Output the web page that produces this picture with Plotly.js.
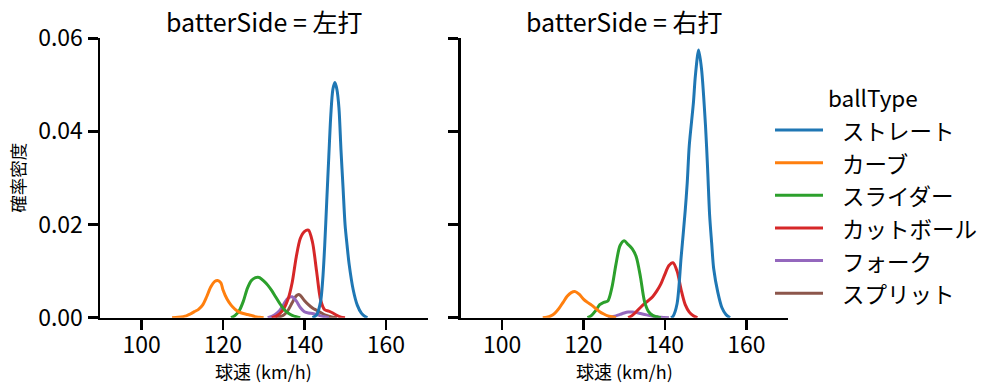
<!DOCTYPE html>
<html>
<head>
<meta charset="utf-8">
<script src="https://cdn.plot.ly/plotly-3.0.1.min.js"></script>
<style>html,body{margin:0;padding:0;background:#fff;}#chart{width:997px;height:391px;}</style>
</head>
<body>
<div id="chart"></div>
<script>
// ---- data ----
const ballTypes = ["ストレート", "カーブ", "スライダー", "カットボール", "フォーク", "スプリット"];
const colors = ["#1f77b4", "#ff7f0e", "#2ca02c", "#d62728", "#9467bd", "#8c564b"];
const sides = ["左打", "右打"];
const xTicks = [100, 120, 140, 160];
const yTicks = [0, 0.02, 0.04, 0.06];

// left-handed batters (左打)
const L_straight_x = [142, 143, 144, 144.5, 145, 145.5, 146, 146.5, 147, 147.5, 148, 148.5, 149, 149.5, 150, 150.5, 151, 152, 153, 154, 155, 155.5];
const L_straight_y = [0, 0.0006, 0.0035, 0.0080, 0.0155, 0.0250, 0.0345, 0.0435, 0.0490, 0.0505, 0.0490, 0.0450, 0.0360, 0.0280, 0.0200, 0.0155, 0.0115, 0.0060, 0.0027, 0.0010, 0.0002, 0];
const L_curve_x = [107.5, 109, 111, 112, 113, 114, 115, 116, 117, 118, 118.7, 119.5, 120, 121, 122, 123, 124, 125, 126, 127, 128, 129, 130];
const L_curve_y = [0, 0.0001, 0.0004, 0.0008, 0.0013, 0.0018, 0.0027, 0.0045, 0.0066, 0.0078, 0.0080, 0.0075, 0.0060, 0.0040, 0.0027, 0.0018, 0.0012, 0.0009, 0.0007, 0.0005, 0.0002, 0.0001, 0];
const L_slider_x = [122, 123, 124, 125, 126, 127, 128, 128.6, 129, 130, 131, 132, 133, 134, 135, 136, 137, 138, 139];
const L_slider_y = [0, 0.0005, 0.0015, 0.0035, 0.0063, 0.0080, 0.0086, 0.0087, 0.0086, 0.0079, 0.0070, 0.0058, 0.0044, 0.0030, 0.0018, 0.0010, 0.0005, 0.0002, 0];
const L_cutter_x = [132, 133, 134, 135, 136, 137, 138, 139, 140, 141, 142, 143, 144, 145, 146, 147, 148, 149, 150];
const L_cutter_y = [0, 0.0003, 0.0009, 0.0020, 0.0040, 0.0075, 0.0130, 0.0170, 0.0185, 0.0188, 0.0162, 0.0100, 0.0038, 0.0017, 0.0014, 0.0010, 0.0005, 0.0001, 0];
const L_fork_x = [131, 132, 133, 134, 135, 136, 137, 138, 139, 140, 141, 142, 143, 144, 145, 146];
const L_fork_y = [0, 0.0003, 0.0008, 0.0016, 0.0030, 0.0042, 0.0045, 0.0036, 0.0022, 0.0013, 0.0010, 0.0009, 0.0007, 0.0004, 0.0002, 0];
const L_split_x = [133, 134, 135, 136, 137, 138, 138.6, 139, 140, 141, 142, 143, 144, 145, 146, 147, 148];
const L_split_y = [0, 0.0002, 0.0006, 0.0016, 0.0032, 0.0047, 0.0050, 0.0048, 0.0037, 0.0028, 0.0021, 0.0016, 0.0011, 0.0006, 0.0003, 0.0001, 0];

// right-handed batters (右打)
const R_straight_x = [141.5, 142, 143, 144, 145, 145.5, 146, 147, 147.5, 148.3, 149, 150, 150.5, 151, 151.5, 152, 153, 154, 155, 156];
const R_straight_y = [0, 0.0003, 0.0030, 0.0130, 0.0230, 0.0290, 0.0370, 0.0460, 0.0520, 0.0575, 0.0535, 0.0410, 0.0320, 0.0220, 0.0160, 0.0105, 0.0055, 0.0022, 0.0007, 0];
const R_curve_x = [110, 111, 112, 113, 114, 115, 116, 117, 118, 119, 120, 121, 122, 123, 124, 125, 126, 127, 128];
const R_curve_y = [0, 0.0001, 0.0004, 0.0010, 0.0020, 0.0033, 0.0046, 0.0054, 0.0056, 0.0050, 0.0040, 0.0033, 0.0027, 0.0020, 0.0013, 0.0008, 0.0004, 0.0002, 0];
const R_slider_x = [121, 122, 123, 124, 125, 126, 127, 128, 129, 130, 131, 132, 133, 134, 135, 136, 137, 138, 139];
const R_slider_y = [0, 0.0005, 0.0015, 0.0028, 0.0033, 0.0036, 0.0065, 0.0115, 0.0155, 0.0165, 0.0157, 0.0148, 0.0130, 0.0088, 0.0035, 0.0013, 0.0005, 0.0002, 0];
const R_cutter_x = [131, 132, 133, 134, 135, 136, 137, 138, 139, 140, 141, 142, 143, 144, 145, 146, 147, 148];
const R_cutter_y = [0, 0.0005, 0.0013, 0.0022, 0.0030, 0.0037, 0.0045, 0.0057, 0.0072, 0.0093, 0.0112, 0.0118, 0.0100, 0.0060, 0.0028, 0.0012, 0.0004, 0];
const R_fork_x = [126, 127, 128, 129, 130, 131, 132, 133, 134, 135, 136, 137, 138, 139, 141];
const R_fork_y = [0, 0.0002, 0.0004, 0.0007, 0.0010, 0.0012, 0.0012, 0.0011, 0.0009, 0.0007, 0.0005, 0.0003, 0.0002, 0.0001, 0];

const seriesL = [[L_straight_x, L_straight_y], [L_curve_x, L_curve_y], [L_slider_x, L_slider_y], [L_cutter_x, L_cutter_y], [L_fork_x, L_fork_y], [L_split_x, L_split_y]];
const seriesR = [[R_straight_x, R_straight_y], [R_curve_x, R_curve_y], [R_slider_x, R_slider_y], [R_cutter_x, R_cutter_y], [R_fork_x, R_fork_y], null];

// ---- build ----
const FONT = '"Noto Sans CJK JP", "Noto Sans", sans-serif';
const traces = [];
[seriesL, seriesR].forEach((series, si) => {
  for (let i = series.length - 1; i >= 0; i--) {
    if (!series[i]) continue;
    traces.push({
      type: 'scatter', mode: 'lines',
      x: series[i][0], y: series[i][1],
      xaxis: si === 0 ? 'x' : 'x2', yaxis: si === 0 ? 'y' : 'y2',
      line: {color: colors[i], width: 3, shape: 'spline', smoothing: 0.8},
      name: ballTypes[i], showlegend: false, hoverinfo: 'skip'
    });
  }
});

const W = 997, H = 391;
const px = v => v / W, py = v => 1 - v / H;
const yDom = [py(317.7), py(38.3)];
const xDomL = [px(100), px(427.7)];
const xDomR = [px(460.5), px(788.2)];

const axCommon = {
  showline: true, linecolor: '#000', linewidth: 2.5, mirror: false,
  ticks: 'outside', ticklen: 10, tickwidth: 2.5, tickcolor: '#000',
  showgrid: false, zeroline: false, fixedrange: true,
  tickfont: {family: FONT, size: 23, color: '#000'}
};
const xAx = (dom, anchor) => Object.assign({}, axCommon, {
  domain: dom, anchor: anchor, range: [89.8, 170.3],
  tickmode: 'array', tickvals: xTicks, ticktext: xTicks.map(String),
  ticklabelstandoff: -5
});
const yAx = (anchor, labels) => Object.assign({}, axCommon, {
  domain: yDom, anchor: anchor, range: [0, 0.06],
  tickmode: 'array', tickvals: yTicks, ticktext: yTicks.map(v => v.toFixed(2)),
  showticklabels: labels, ticklabelstandoff: 0
});

const annotations = sides.map((s, i) => ({
  text: 'batterSide = ' + s, xref: 'paper', yref: 'paper',
  x: i === 0 ? (xDomL[0] + xDomL[1]) / 2 : (xDomR[0] + xDomR[1]) / 2,
  y: py(20.7), xanchor: 'center', yanchor: 'middle', showarrow: false,
  font: {family: FONT, size: 25, color: '#000'}
}));
[xDomL, xDomR].forEach(d => annotations.push({
  text: '球速 (km/h)', xref: 'paper', yref: 'paper', x: (d[0] + d[1]) / 2, y: py(371),
  xanchor: 'center', yanchor: 'middle', showarrow: false,
  font: {family: FONT, size: 18, color: '#000'}
}));
annotations.push({
  text: '確率密度', xref: 'paper', yref: 'paper', x: px(16.7), y: py(178),
  xanchor: 'center', yanchor: 'middle', textangle: -90, showarrow: false,
  font: {family: FONT, size: 17.5, color: '#000'}
});
// legend (drawn as shapes + text)
const legY0 = 130, legStep = 32.65;
annotations.push({
  text: 'ballType', xref: 'paper', yref: 'paper', x: px(826), y: py(96.7),
  xanchor: 'left', yanchor: 'middle', showarrow: false,
  font: {family: FONT, size: 22.5, color: '#000'}
});
const shapes = [];
ballTypes.forEach((b, i) => {
  const yy = py(legY0 + i * legStep);
  shapes.push({type: 'line', xref: 'paper', yref: 'paper', x0: px(775), x1: px(823), y0: yy, y1: yy,
    line: {color: colors[i], width: 3}});
  annotations.push({text: b, xref: 'paper', yref: 'paper', x: px(839.5), y: yy,
    xanchor: 'left', yanchor: 'middle', showarrow: false,
    font: {family: FONT, size: 22.5, color: '#000'}});
});

const layout = {
  width: W, height: H, autosize: false,
  margin: {l: 0, r: 0, t: 0, b: 0, pad: 0},
  paper_bgcolor: '#fff', plot_bgcolor: '#fff',
  showlegend: false,
  font: {family: FONT, color: '#000'},
  xaxis: xAx(xDomL, 'y'), yaxis: yAx('x', true),
  xaxis2: xAx(xDomR, 'y2'), yaxis2: yAx('x2', false),
  annotations: annotations, shapes: shapes
};
Plotly.newPlot('chart', traces, layout, {staticPlot: true, displayModeBar: false});
</script>
</body>
</html>
